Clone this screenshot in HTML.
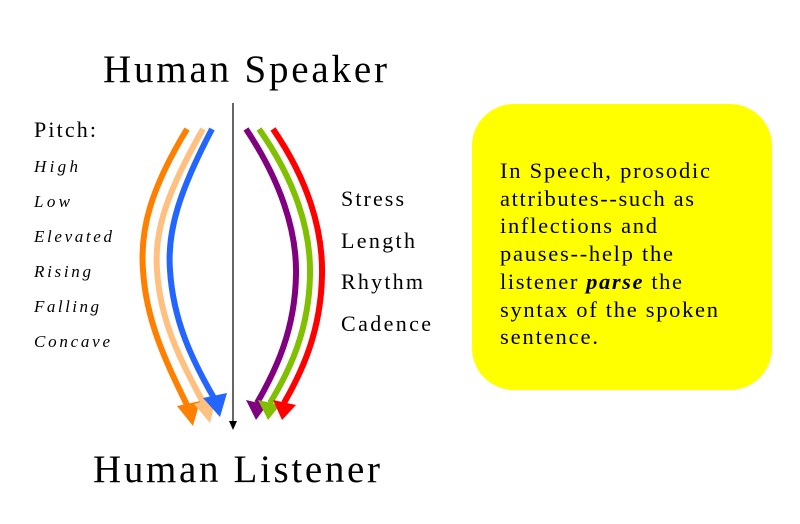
<!DOCTYPE html>
<html><head><meta charset="utf-8"><style>
html,body{margin:0;padding:0;background:#fff;}
svg{display:block;}
text{font-family:"Liberation Serif",serif;fill:#000;}
</style></head><body>
<svg width="800" height="524" viewBox="0 0 800 524" xmlns="http://www.w3.org/2000/svg">
<text x="103" y="82" font-size="39" textLength="284" lengthAdjust="spacing">Human Speaker</text>
<text x="93" y="482" font-size="39" textLength="287" lengthAdjust="spacing">Human Listener</text>
<text x="34" y="137" font-size="22" textLength="62" lengthAdjust="spacing">Pitch:</text>
<g font-size="17" font-style="italic">
<text x="34" y="172" textLength="44" lengthAdjust="spacing">High</text>
<text x="34" y="207" textLength="36" lengthAdjust="spacing">Low</text>
<text x="34" y="242" textLength="78" lengthAdjust="spacing">Elevated</text>
<text x="34" y="277" textLength="57" lengthAdjust="spacing">Rising</text>
<text x="34" y="312" textLength="65" lengthAdjust="spacing">Falling</text>
<text x="34" y="347" textLength="76" lengthAdjust="spacing">Concave</text>
</g>
<g font-size="22">
<text x="341" y="206" textLength="63" lengthAdjust="spacing">Stress</text>
<text x="341" y="248" textLength="74" lengthAdjust="spacing">Length</text>
<text x="341" y="289" textLength="82" lengthAdjust="spacing">Rhythm</text>
<text x="341" y="331" textLength="90" lengthAdjust="spacing">Cadence</text>
</g>
<line x1="233" y1="103" x2="233" y2="422" stroke="#000" stroke-width="1.2"/>
<polygon points="229,421 237,421 233,430" fill="#000"/>
<g fill="none" stroke-width="6">
<path d="M187,129 C150,190 140,230 143,270 C146,320 165,360 187,405" stroke="#ff8000"/>
<path d="M203,129 C168,190 154,230 157,270 C160,320 180,360 203,402" stroke="#ffc080"/>
<path d="M212,129 C180,190 167,230 170,270 C173,320 192,360 214,398" stroke="#2266ff"/>
<path d="M246,129 C280,180 297,230 296,275 C295,330 276,370 257,403" stroke="#800080"/>
<path d="M259,129 C295,180 311,230 310,275 C309,330 290,370 270,403" stroke="#80c000"/>
<path d="M273,129 C308,180 323,230 322,275 C321,330 303,370 284,403" stroke="#ff0000"/>
</g>
<polygon points="177,406 200,401 193,426" fill="#ff8000"/>
<polygon points="194,404 216,398 210,423" fill="#ffc080"/>
<polygon points="203,398 227,393 220,417" fill="#2266ff"/>
<polygon points="246,400 267,405 256,420" fill="#800080"/>
<polygon points="258,400 280,405 268,420" fill="#80c000"/>
<polygon points="273,400 296,405 282,420" fill="#ff0000"/>
<rect x="472" y="104" width="300" height="286" rx="42" ry="42" fill="#ffff00"/>
<g font-size="22.5">
<text x="500" y="178" textLength="210" lengthAdjust="spacing">In Speech, prosodic</text>
<text x="500" y="206" textLength="194" lengthAdjust="spacing">attributes--such as</text>
<text x="500" y="233" textLength="157" lengthAdjust="spacing">inflections and</text>
<text x="500" y="261" textLength="173" lengthAdjust="spacing">pauses--help the</text>
<text x="500" y="289" textLength="182" lengthAdjust="spacing">listener <tspan font-weight="bold" font-style="italic">parse</tspan> the</text>
<text x="500" y="317" textLength="218" lengthAdjust="spacing">syntax of the spoken</text>
<text x="500" y="344" textLength="98" lengthAdjust="spacing">sentence.</text>
</g>
</svg>
</body></html>
